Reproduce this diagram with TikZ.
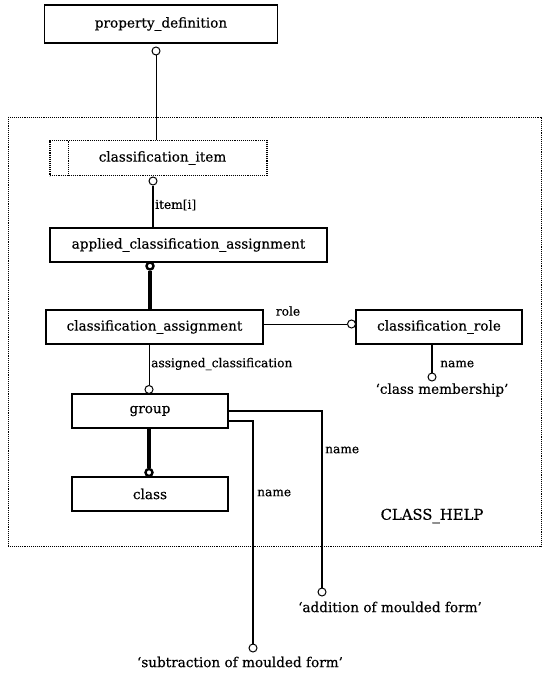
\documentclass[tikz,border=0pt]{standalone}
\usepackage{fontspec}
\setmainfont{DejaVu Serif}[FakeBold=0.4]
\begin{document}
\begin{tikzpicture}[x=1pt,y=-1pt,
  every node/.style={font=\fontsize{13.6}{15}\selectfont, inner sep=0pt},
  ent/.style={draw, line width=1.1pt, rectangle, minimum height=34pt},
  oc/.style={draw, circle, fill=white, line width=1pt, minimum size=8pt},
  occ/.style={draw, circle, fill=white, line width=2.4pt, minimum size=7pt},
  conn/.style={line width=0.9pt},
  connm/.style={line width=1.6pt},
  connt/.style={line width=3.5pt},
  lbl/.style={font=\fontsize{12.2}{14}\selectfont},
  lblw/.style={lbl, anchor=west}
]
\useasboundingbox (0,0) rectangle (550,674);
% container
\draw[densely dotted, line width=0.9pt] (8,117) rectangle (541,546);
\node[font=\fontsize{14.8}{16}\selectfont] at (432,516) (ch) {CLASS\_HELP};
% entities
\node[ent, minimum width=233pt, minimum height=38pt] (pd) at (161,24) {property\_definition};
\node[ent, densely dotted, minimum width=217pt, minimum height=35pt] (ci) at (158.5,158) {\hspace*{8pt}classification\_item};
\draw[densely dotted, line width=0.9pt] (68,140.5) -- (68,175.5);
\node[ent, minimum width=277pt] (aca) at (188.5,245) {applied\_classification\_assignment};
\node[ent, minimum width=217pt] (ca) at (154.5,327) {classification\_assignment};
\node[ent, minimum width=166pt] (cr) at (439,327) {classification\_role};
\node[ent, minimum width=156pt] (grp) at (150,411) {group};
\node[ent, minimum width=156pt] (cls) at (150,494) {class};
% circles
\node[oc] (c1) at (156,51) {};
\node[oc] (c2) at (153,181) {};
\node[occ] (c3) at (150,266) {};
\node[oc] (c4) at (351.5,324) {};
\node[oc] (c5) at (432,377) {};
\node[oc] (c6) at (149,389.5) {};
\node[occ] (c7) at (149,472.5) {};
\node[oc] (c8) at (322,592) {};
\node[oc] (c9) at (253,648) {};
% connectors
\draw[conn] (c1) -- (ci.north -| c1);
\draw[connm] (c2) -- (aca.north -| c2);
\draw[connt] (c3) -- (ca.north -| c3);
\draw[conn] (ca.east |- c4) -- (c4);
\draw[connm] (cr.south -| c5) -- (c5);
\draw[conn] (ca.south -| c6) -- (c6);
\draw[connt] (grp.south -| c7) -- (c7);
\coordinate (g1) at (228,411);
\coordinate (g2) at (228,421);
\draw[connm] (g1) -| (c8);
\draw[connm] (g2) -| (c9);
% labels
\node[lblw] (l1) at (155,205) {item[i]};
\node[lbl] (l2) at (288,311) {role};
\node[lblw] (l3) at (440,364) {name};
\node (l4) at (442,390) {`class membership'};
\node[lblw] (l5) at (151,364) {assigned\_classification};
\node[lblw] (l6) at (325,450) {name};
\node[lblw] (l7) at (257,493) {name};
\node (l8) at (390,607) {`addition of moulded form'};
\node (l9) at (240,662) {`subtraction of moulded form'};
\end{tikzpicture}
\end{document}
